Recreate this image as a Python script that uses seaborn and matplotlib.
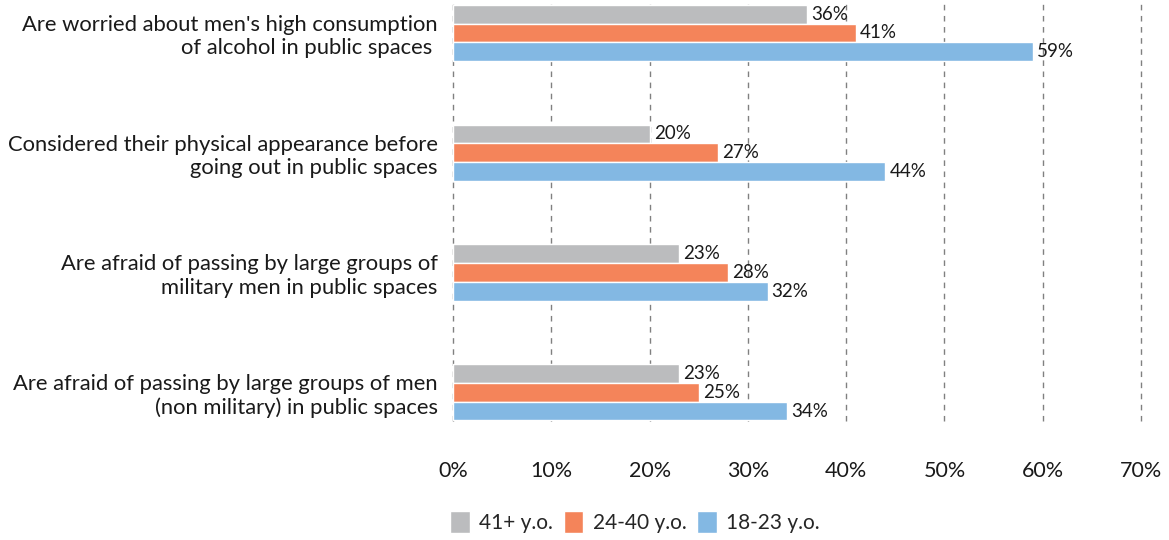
import pandas as pd
import matplotlib.pyplot as plt
import seaborn as sns

# survey results, share of respondents per age group
statements = [
    "Are worried about men's high consumption\nof alcohol in public spaces ",
    "Considered their physical appearance before\ngoing out in public spaces",
    "Are afraid of passing by large groups of\nmilitary men in public spaces",
    "Are afraid of passing by large groups of men\n(non military) in public spaces",
]
age_groups = ["41+ y.o.", "24-40 y.o.", "18-23 y.o."]
values_41_plus = [36, 20, 23, 23]
values_24_40 = [41, 27, 28, 25]
values_18_23 = [59, 44, 32, 34]
colors = ["#BBBCBE", "#F4845A", "#83B8E3"]
x_ticks = [0, 10, 20, 30, 40, 50, 60, 70]

rows = []
for group, vals in zip(age_groups, [values_41_plus, values_24_40, values_18_23]):
    for stmt, v in zip(statements, vals):
        rows.append({"statement": stmt, "group": group, "value": v})
df = pd.DataFrame(rows)

sns.set_style("white")
plt.rcParams["font.family"] = ["Lato", "DejaVu Sans"]

fig = plt.figure(figsize=(11.69, 5.40), dpi=100)
ax = fig.add_axes([453 / 1169, 1 - 421 / 540, (1141 - 453) / 1169, 421 / 540])

sns.barplot(data=df, x="value", y="statement", hue="group", order=statements,
            hue_order=age_groups, palette=colors, orient="h", width=0.47,
            saturation=1, ax=ax, legend=True)

for cont in ax.containers:
    ax.bar_label(cont, labels=[f"{int(b.get_width())}%" for b in cont],
                 padding=3, fontsize=13.5, color="#1a1a1a")

ax.set_xlim(0, 70)
ax.set_ylim(3.24, -0.275)
ax.set_xticks(x_ticks)
ax.set_xticklabels([f"{t}%" for t in x_ticks])
ax.tick_params(axis="x", length=0, pad=29, labelsize=15.5, labelcolor="#1a1a1a")
ax.tick_params(axis="y", length=0, pad=11, labelsize=15.8, labelcolor="#1a1a1a")
for lab in ax.get_yticklabels():
    lab.set_horizontalalignment("right")
ax.set_xlabel("")
ax.set_ylabel("")
for s in ax.spines.values():
    s.set_visible(False)
ax.grid(axis="x", color="#808080", linestyle=(0, (4, 4)), linewidth=1)
for gl in ax.get_xgridlines():
    gl.set_clip_on(False)
ax.set_axisbelow(True)

handles, labels = ax.get_legend_handles_labels()
ax.get_legend().remove()
fig.legend(handles, labels, loc="center", bbox_to_anchor=(635 / 1169, 1 - 522 / 540),
           ncol=3, frameon=False, fontsize=15, handlelength=0.95, handleheight=1.3,
           handletextpad=0.45, columnspacing=0.5)

fig.savefig("out.png", dpi=100)
